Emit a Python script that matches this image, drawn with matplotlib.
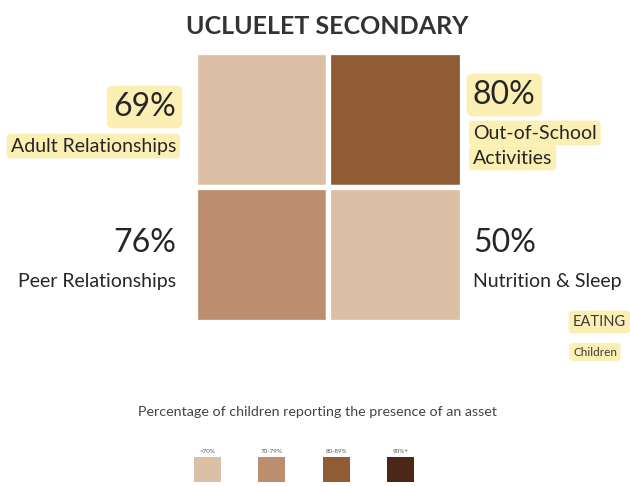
"""Recreate the Ucluelet Secondary asset quadrant chart."""
import matplotlib
matplotlib.use("Agg")
import matplotlib.pyplot as plt
import numpy as np

plt.rcParams["font.family"] = ["Lato", "DejaVu Sans"]

W, H = 630, 486

# Data
TITLE = "UCLUELET SECONDARY"
categories = ["Adult Relationships", "Out-of-School\nActivities",
              "Peer Relationships", "Nutrition & Sleep"]
values = [69, 80, 76, 50]
grid_col = [0, 1, 0, 1]
grid_row = [1, 1, 0, 0]
highlighted = [True, True, False, False]

bin_edges = [70, 80, 90]
bin_labels = ["<70%", "70-79%", "80-89%", "90%+"]
bin_colors = ["#dcc0a5", "#bc8d6e", "#8f5c35", "#4b2718"]
legend_title = "Percentage of children reporting the presence of an asset"

HILITE = "#fcefb4"
INK = "#262626"


def px(x, y):
    """pixel (from top-left) -> figure fraction"""
    return x / W, 1 - y / H


fig = plt.figure(figsize=(W / 100, H / 100), dpi=100)
fig.patch.set_facecolor("white")

# title
fig.text(*px(327, 27), TITLE, ha="center", va="center", fontsize=18,
         fontweight="bold", color="#333333")

# quadrant grid
ax = fig.add_axes([194.5 / W, 1 - 321.5 / H, 267 / W, 269 / H])
bins = np.digitize(values, bin_edges)
for c, r, b in zip(grid_col, grid_row, bins):
    ax.bar(c, 1, width=1, bottom=r, align="edge", color=bin_colors[b],
           edgecolor="white", linewidth=3.8)
ax.set_xlim(0, 2)
ax.set_ylim(0, 2)
ax.axis("off")

# labels around the grid: (x, y_pct, y_label, ha)
label_pos = [(176, 107, 146, "right"), (473, 95, 133, "left"),
             (176, 243, 281, "right"), (473, 243, 281, "left")]
for cat, v, hl, (x, yp, yl, ha) in zip(categories, values, highlighted, label_pos):
    box = dict(boxstyle="round,pad=0.2", fc=HILITE, ec="none") if hl else None
    fig.text(*px(x, yp), f"{v}%", ha=ha, va="center", fontsize=23,
             color=INK, bbox=box)
    lines = cat.split("\n")
    for i, line in enumerate(lines):
        fig.text(*px(x, yl + i * 25), line, ha=ha, va="center", fontsize=14,
                 color=INK, bbox=box)

# small note at the right edge
box = dict(boxstyle="round,pad=0.3", fc=HILITE, ec="none")
fig.text(*px(573, 322), "EATING", ha="left", va="center", fontsize=10.5,
         color="#3a3a3a", bbox=box)
fig.text(*px(573, 352), "Children", ha="left", va="center", fontsize=8.5,
         color="#3a3a3a", bbox=box)

# legend
fig.text(*px(318, 412), legend_title, ha="center", va="center",
         fontsize=10.3, color="#444444")
lax = fig.add_axes([194 / W, 1 - 482 / H, 220 / W, 38 / H])
xs = np.arange(len(bin_labels))
lax.bar(xs, 1, width=0.42, color=bin_colors)
for x, lab in zip(xs, bin_labels):
    lax.text(x, 1.25, lab, ha="center", va="center", fontsize=4.5,
             color="#555555")
lax.set_xlim(-0.21, 3.21)
lax.set_ylim(0, 1.55)
lax.axis("off")

fig.savefig("out.png", dpi=100, facecolor="white")
